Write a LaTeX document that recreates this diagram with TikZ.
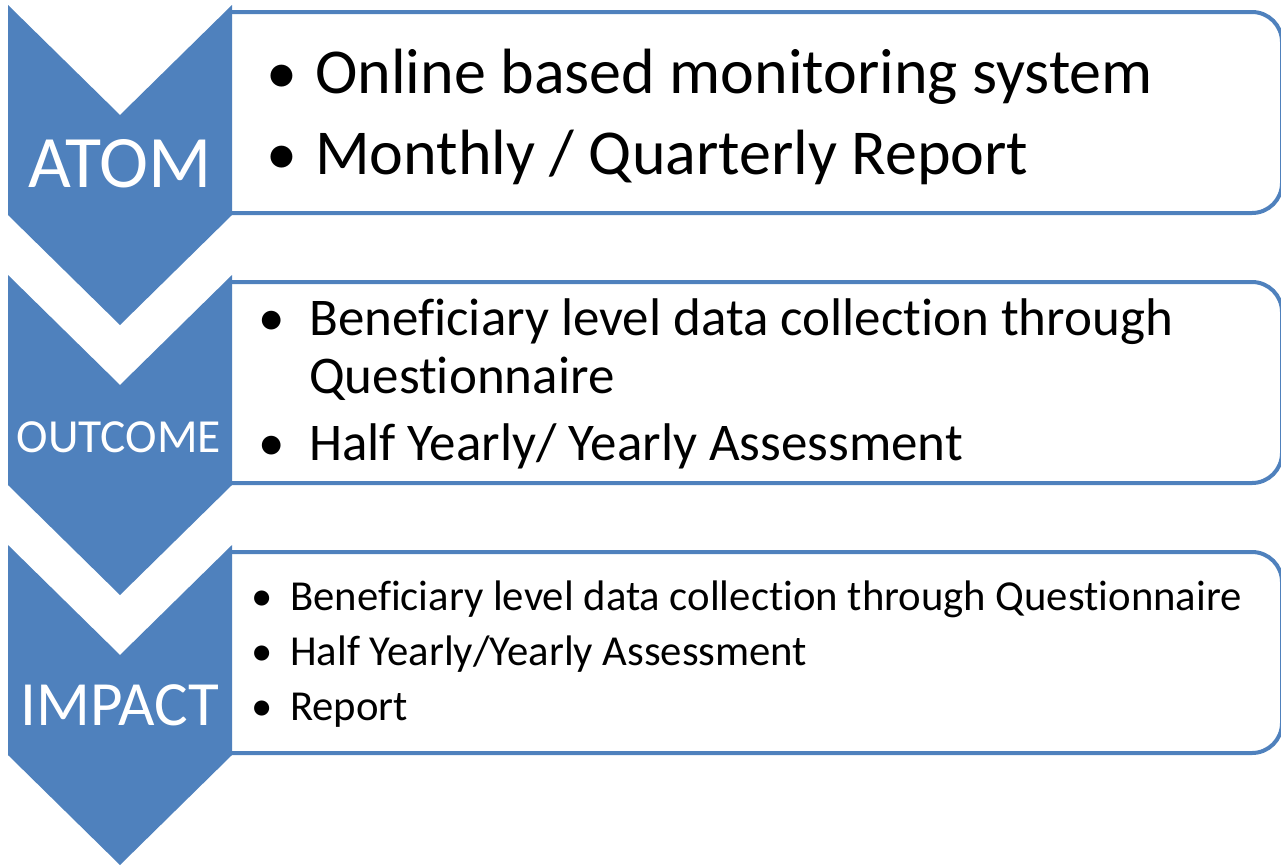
\documentclass[tikz,border=0pt]{standalone}
\usepackage{fontspec}
\setmainfont{Carlito}[RawFeature={-liga}]
\usetikzlibrary{positioning}
\definecolor{chevblue}{HTML}{4F81BD}
\def\fs#1{\fontsize{#1pt}{#1pt}\selectfont}

\begin{document}
\begin{tikzpicture}[x=1pt, y=-1pt,
  chevron/.style={fill=chevblue},
  infobox/.style={draw=chevblue, line width=4pt, fill=white, rounded corners=30pt},
  stagetext/.style={text=white, anchor=base, inner sep=0pt},
  itemtext/.style={anchor=base west, inner sep=0pt},
  dot/.style={anchor=base, inner sep=0pt}]
  \useasboundingbox (0,0) rectangle (1281,865);
  % boxes behind the chevrons
  \foreach \y in {12, 282, 552}
    \draw[infobox] (232,\y) -- (1282,\y) -- (1282,\y+201) -- (232,\y+201);
  % chevrons
  \foreach \y in {5, 275, 545}
    \fill[chevron] (8,\y) -- (120,\y+110) -- (232,\y) -- (232,\y+210)
      -- (120,\y+320) -- (8,\y+210) -- cycle;
  \node (atom) [stagetext] at (120,187) {\fs{74}ATOM};
  \node (outcome) [stagetext] at (119,452) {\fs{47.5}OUTCOME};
  \node (impact) [stagetext] at (120,725) {\fs{63}IMPACT};
  % ATOM
  \node (b11) [dot] at (282,93) {\fs{62}\textbullet};
  \node (t11) [itemtext] at (315,93) {\fs{64}Online based monitoring system};
  \node (b12) [dot] at (282,174) {\fs{62}\textbullet};
  \node (t12) [itemtext] at (315,174) {\fs{64}Monthly / Quarterly Report};
  % OUTCOME
  \node (b21) [dot] at (272,335) {\fs{53}\textbullet};
  \node (t21) [itemtext] at (309,335) {\fs{53}Beneficiary level data collection through};
  \node (t21b) [itemtext] at (309,393) {\fs{53}Questionnaire};
  \node (b22) [dot] at (272,460) {\fs{53}\textbullet};
  \node (t22) [itemtext] at (309,460) {\fs{53}Half Yearly/ Yearly Assessment};
  % IMPACT
  \node (b31) [dot] at (262,610) {\fs{42.7}\textbullet};
  \node (t31) [itemtext] at (290,610) {\fs{42.7}Beneficiary level data collection through Questionnaire};
  \node (b32) [dot] at (262,665) {\fs{42.7}\textbullet};
  \node (t32) [itemtext] at (290,665) {\fs{42.7}Half Yearly/Yearly Assessment};
  \node (b33) [dot] at (262,720) {\fs{42.7}\textbullet};
  \node (t33) [itemtext] at (290,720) {\fs{42.7}Report};
\end{tikzpicture}
\end{document}
